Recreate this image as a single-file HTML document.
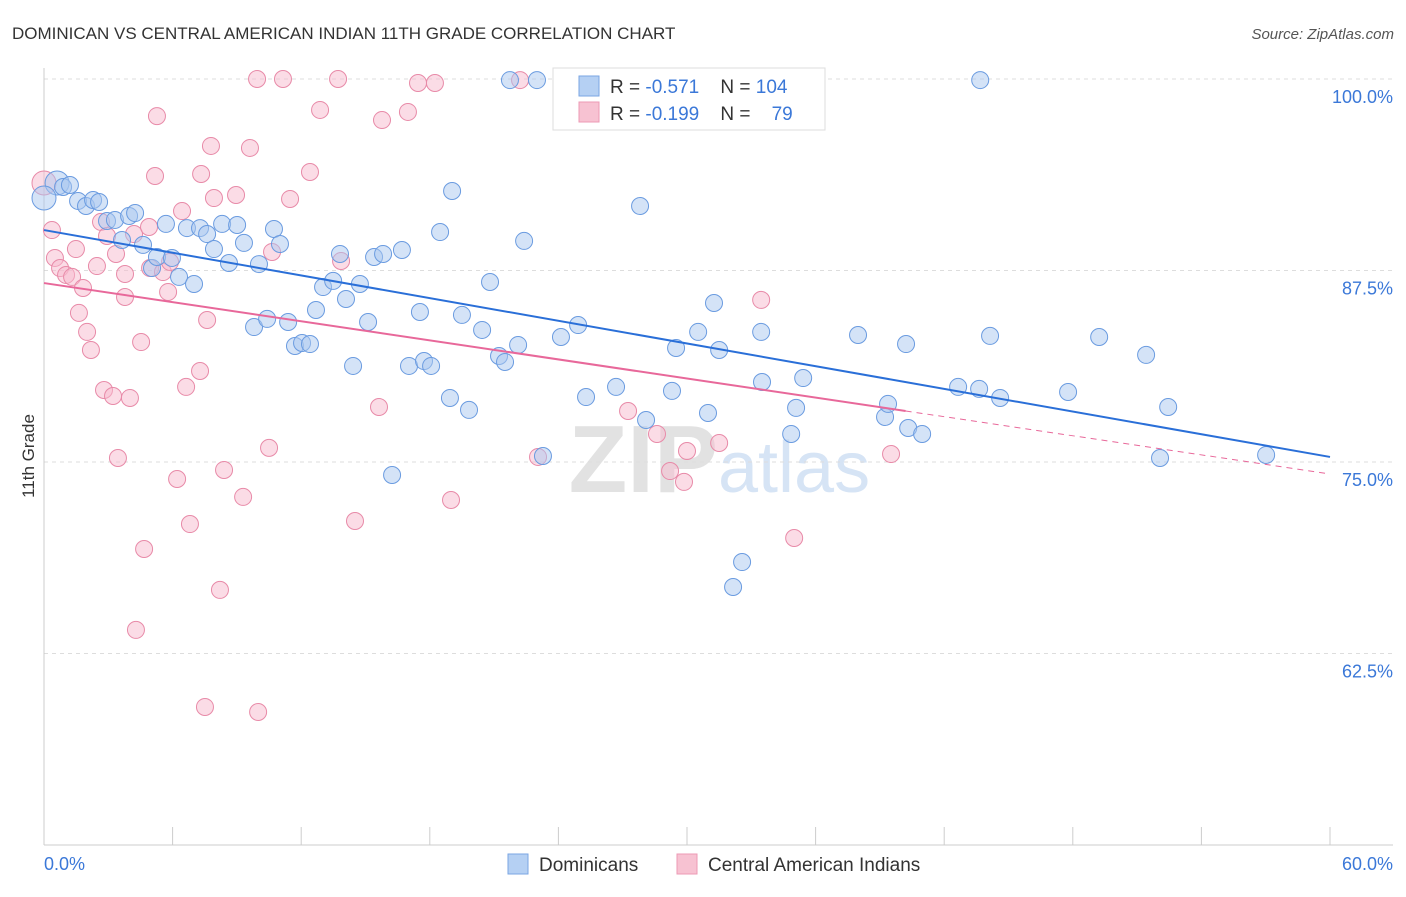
<!DOCTYPE html>
<html><head><meta charset="utf-8"><style>
body{margin:0;background:#fff;font-family:"Liberation Sans",sans-serif;}
svg text{font-family:"Liberation Sans",sans-serif;}
</style></head><body>
<svg id="chart" width="1406" height="892">
<text x="12" y="39" font-size="17" fill="#333">DOMINICAN VS CENTRAL AMERICAN INDIAN 11TH GRADE CORRELATION CHART</text>
<text x="1394" y="39" font-size="15" fill="#555" text-anchor="end" font-style="italic">Source: ZipAtlas.com</text>
<text x="34" y="456" font-size="17" fill="#333" text-anchor="middle" transform="rotate(-90 34 456)">11th Grade</text>
<text x="718" y="492" font-size="96" fill="#e2e2e2" text-anchor="end" font-weight="bold">ZIP</text>
<text x="718" y="492" font-size="72" fill="#d6e4f5">atlas</text>
<g id="grid"></g><g id="marks"></g><g id="lines"></g>
<g>
<rect x="553" y="68" width="272" height="62" fill="#fff" stroke="#ddd"/>
<rect x="579" y="76" width="20" height="20" fill="#b5d0f3" stroke="#7aa6e3"/>
<rect x="579" y="102" width="20" height="20" fill="#f7c2d2" stroke="#ec9ab4"/>
<text x="610" y="93" font-size="19" fill="#333" xml:space="preserve">R = <tspan fill="#3b78d8">-0.571</tspan>    N = <tspan fill="#3b78d8">104</tspan></text>
<text x="610" y="120" font-size="19" fill="#333" xml:space="preserve">R = <tspan fill="#3b78d8">-0.199</tspan>    N =    <tspan fill="#3b78d8">79</tspan></text>
</g>
<g>
<rect x="508" y="854" width="20" height="20" fill="#b5d0f3" stroke="#7aa6e3"/>
<text x="539" y="871" font-size="19" fill="#333">Dominicans</text>
<rect x="677" y="854" width="20" height="20" fill="#f7c2d2" stroke="#ec9ab4"/>
<text x="708" y="871" font-size="19" fill="#333">Central American Indians</text>
</g>
</svg>
<script>
const yTicks=[100,87.5,75,62.5];
const yTickLabels=["100.0%","87.5%","75.0%","62.5%"];
const xTickLabels=["0.0%","60.0%"];
const blueX=[0.61,0.0,0.89,1.21,1.59,1.96,2.29,2.57,2.94,3.31,3.64,3.97,4.25,4.62,5.04,5.27,5.69,5.97,6.30,6.67,7.00,7.28,7.61,7.93,8.31,8.63,9.01,9.33,9.80,10.03,10.41,10.73,11.01,11.39,11.71,12.04,12.41,12.69,13.02,13.49,13.81,14.09,14.42,14.74,15.12,15.40,15.82,16.24,16.70,17.03,17.54,17.73,18.06,18.48,18.94,19.04,19.50,19.83,20.44,20.81,21.23,21.51,21.74,22.12,22.40,23.00,23.28,24.12,24.92,25.29,25.85,26.69,27.81,28.09,29.30,29.49,30.52,30.98,31.26,31.50,32.15,32.57,33.46,33.50,34.86,35.09,35.42,37.98,39.24,39.38,40.22,40.32,40.97,42.65,43.63,43.68,44.14,44.61,47.78,49.23,51.42,52.07,52.45,57.02];
const blueY=[93.21,92.23,92.95,93.08,92.04,91.71,92.10,91.97,90.73,90.80,89.49,91.06,91.25,89.17,87.66,88.38,90.54,88.32,87.08,90.27,86.62,90.27,89.88,88.90,90.54,87.99,90.47,89.30,83.81,87.92,84.34,90.21,89.23,84.14,82.57,82.77,82.70,84.92,86.42,86.82,88.58,85.64,81.27,86.62,84.14,88.38,88.58,74.15,88.84,81.27,84.79,81.59,81.27,90.01,79.18,92.69,84.60,78.40,83.62,86.75,81.92,81.53,99.93,82.64,89.43,99.93,75.39,83.16,83.94,79.24,99.93,79.90,91.71,77.74,79.64,82.44,83.49,78.20,85.38,82.31,66.84,68.47,83.49,80.22,76.83,78.53,80.48,83.29,77.94,78.79,82.70,77.22,76.83,79.90,79.77,99.93,83.23,79.18,79.57,83.16,81.99,75.26,78.59,75.46];
const pinkX=[0.0,0.37,0.51,0.75,1.03,1.31,1.49,1.63,1.82,2.01,2.19,2.47,2.66,2.80,2.94,3.22,3.36,3.45,3.78,3.78,4.01,4.20,4.29,4.53,4.67,4.90,4.95,5.18,5.27,5.55,5.79,5.88,6.21,6.44,6.63,6.81,7.28,7.33,7.51,7.61,7.79,7.93,8.21,8.40,8.96,9.29,9.61,9.94,9.99,10.50,10.64,11.15,11.48,12.41,12.88,13.72,13.86,14.51,15.63,15.77,16.98,17.45,18.24,18.99,22.21,23.05,27.25,28.60,29.21,29.86,30.00,31.50,33.46,35.00,39.52];
const pinkY=[93.21,90.14,88.32,87.66,87.21,87.08,88.90,84.73,86.36,83.49,82.31,87.79,90.67,79.70,89.75,79.31,88.58,75.26,87.27,85.77,79.18,89.88,64.04,82.83,69.32,90.34,87.66,93.67,97.58,87.40,86.10,88.06,73.89,91.38,79.90,70.95,80.94,93.80,59.01,84.27,95.63,92.23,66.65,74.48,92.43,72.72,95.50,100,58.68,75.92,88.71,100,92.17,93.93,97.98,100,88.12,71.15,78.59,97.32,97.85,99.74,99.74,72.52,99.93,75.33,78.33,76.83,74.41,73.70,75.72,76.24,85.58,70.04,75.52];
const blueLine=[90.14,75.33];
const pinkLine=[86.68,74.22];
const pinkSolidEnd=40.2;
const NS="http://www.w3.org/2000/svg";
const X0=44,X1=1330,YT=79,PX=15.32;
function sx(v){return X0+(v/60)*(X1-X0);}
function sy(v){return YT+(100-v)*PX;}
function mk(tag,attrs,parent){const e=document.createElementNS(NS,tag);for(const k in attrs)e.setAttribute(k,attrs[k]);parent.appendChild(e);return e;}
const grid=document.getElementById('grid'),marks=document.getElementById('marks'),lines=document.getElementById('lines');
yTicks.forEach((t,i)=>{
 const l=mk('line',{x1:X0,x2:1393,y1:sy(t),y2:sy(t),stroke:'#ddd','stroke-dasharray':'4,4'},grid);
 
 
 const tx=mk('text',{x:1393,y:sy(t)+24,'font-size':18,fill:'#3b78d8','text-anchor':'end'},grid);
 tx.textContent=yTickLabels[i];
 
 
});
const ax=mk('line',{x1:X0,x2:X0,y1:68,y2:845,stroke:'#ccc'},grid);


const bx=mk('line',{x1:X0,x2:1393,y1:845,y2:845,stroke:'#ccc'},grid);


for(let i=1;i<=10;i++){
 const tk=mk('line',{x1:sx(i*6),x2:sx(i*6),y1:827,y2:845,stroke:'#ccc'},grid);
 
 
}
[[0,'start',44],[60,'end',1393]].forEach((a,i)=>{
 const t=mk('text',{x:a[2],y:870,'font-size':18,fill:'#3b78d8','text-anchor':a[1]},grid);
 t.textContent=xTickLabels[i];
 
 
});
function dots(xs,ys,fill,stroke,name){
 xs.forEach((x,i)=>{
  const r=(x<0.7&&ys[i]>92)?12:8.5;
  const c=mk('circle',{cx:sx(x),cy:sy(ys[i]),r:r,fill:fill,'fill-opacity':0.5,stroke:stroke,'stroke-width':1},marks);
  
  
 });
}
dots(pinkX,pinkY,'#f7bacd','#e88aa8','pink-point');
dots(blueX,blueY,'#a9c7f0','#6a9be0','blue-point');
const bl=mk('line',{x1:sx(0),y1:sy(blueLine[0]),x2:sx(60),y2:sy(blueLine[1]),stroke:'#2a6fd8','stroke-width':2},lines);


const py=v=>pinkLine[0]+(pinkLine[1]-pinkLine[0])*v/60;
const pl=mk('line',{x1:sx(0),y1:sy(pinkLine[0]),x2:sx(pinkSolidEnd),y2:sy(py(pinkSolidEnd)),stroke:'#e8689a','stroke-width':2},lines);


const pd=mk('line',{x1:sx(pinkSolidEnd),y1:sy(py(pinkSolidEnd)),x2:sx(60),y2:sy(pinkLine[1]),stroke:'#e8689a','stroke-width':1,'stroke-dasharray':'6,5'},lines);


</script>
</body></html>
